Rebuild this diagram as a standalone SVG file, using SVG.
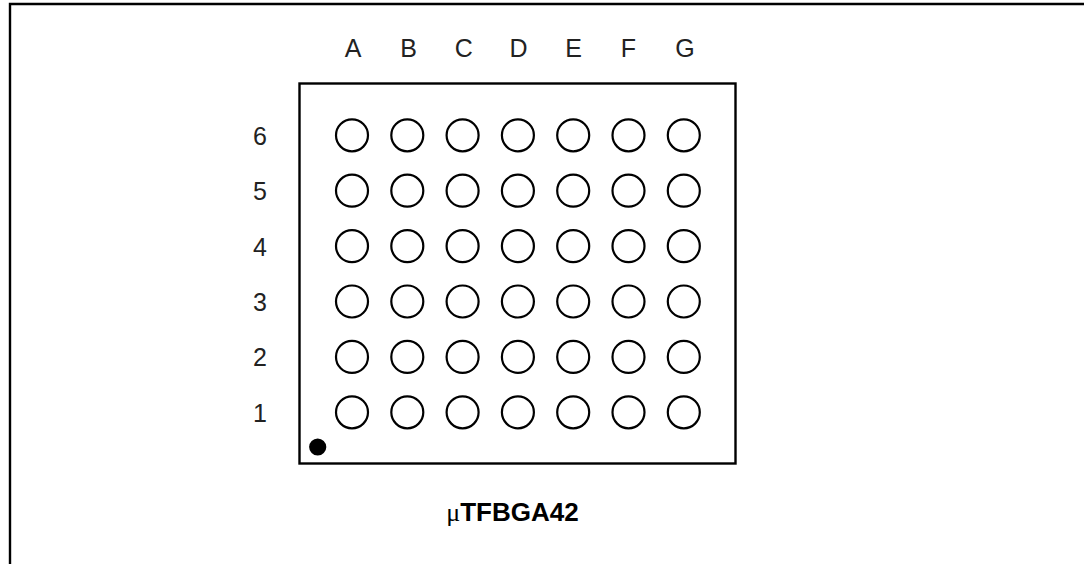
<svg xmlns="http://www.w3.org/2000/svg" width="1084" height="564" viewBox="0 0 1084 564">
<style>
.frame{stroke:#000;stroke-width:2.4;fill:none}
.chip{stroke:#000;stroke-width:2.4;fill:#fff}
.ball{stroke:#000;stroke-width:2.2;fill:#fff}
.lbl{font-family:"Liberation Sans",Arial,sans-serif;font-size:25px;fill:#222;text-anchor:middle}
.cap{font-family:"Liberation Sans",Arial,sans-serif;font-size:26px;font-weight:bold;fill:#000;text-anchor:middle}
</style>
<rect width="1084" height="564" fill="#fff"/>
<g id="frame">
<path class="frame" d="M10,564 V4 H1084"/>
</g>
<g id="chip">
<rect class="chip" x="299.5" y="83.5" width="436" height="380"/>
<circle cx="317.7" cy="447" r="8.6" fill="#000"/>
</g>
<g id="columns">
<text class="lbl" x="353" y="57">A</text>
<text class="lbl" x="408.5" y="57">B</text>
<text class="lbl" x="463.7" y="57">C</text>
<text class="lbl" x="518.5" y="57">D</text>
<text class="lbl" x="573.5" y="57">E</text>
<text class="lbl" x="628.5" y="57">F</text>
<text class="lbl" x="685" y="57">G</text>
</g>
<g id="rows">
<text class="lbl" x="260" y="144.8">6</text>
<text class="lbl" x="260" y="200.2">5</text>
<text class="lbl" x="260" y="255.6">4</text>
<text class="lbl" x="260" y="311">3</text>
<text class="lbl" x="260" y="366.4">2</text>
<text class="lbl" x="260" y="421.8">1</text>
</g>
<g id="balls">
<g id="row6"><circle class="ball" cx="352" cy="135.3" r="16"/><circle class="ball" cx="407.3" cy="135.3" r="16"/><circle class="ball" cx="462.6" cy="135.3" r="16"/><circle class="ball" cx="517.9" cy="135.3" r="16"/><circle class="ball" cx="573.2" cy="135.3" r="16"/><circle class="ball" cx="628.5" cy="135.3" r="16"/><circle class="ball" cx="683.8" cy="135.3" r="16"/></g>
<g id="row5"><circle class="ball" cx="352" cy="190.7" r="16"/><circle class="ball" cx="407.3" cy="190.7" r="16"/><circle class="ball" cx="462.6" cy="190.7" r="16"/><circle class="ball" cx="517.9" cy="190.7" r="16"/><circle class="ball" cx="573.2" cy="190.7" r="16"/><circle class="ball" cx="628.5" cy="190.7" r="16"/><circle class="ball" cx="683.8" cy="190.7" r="16"/></g>
<g id="row4"><circle class="ball" cx="352" cy="246.1" r="16"/><circle class="ball" cx="407.3" cy="246.1" r="16"/><circle class="ball" cx="462.6" cy="246.1" r="16"/><circle class="ball" cx="517.9" cy="246.1" r="16"/><circle class="ball" cx="573.2" cy="246.1" r="16"/><circle class="ball" cx="628.5" cy="246.1" r="16"/><circle class="ball" cx="683.8" cy="246.1" r="16"/></g>
<g id="row3"><circle class="ball" cx="352" cy="301.5" r="16"/><circle class="ball" cx="407.3" cy="301.5" r="16"/><circle class="ball" cx="462.6" cy="301.5" r="16"/><circle class="ball" cx="517.9" cy="301.5" r="16"/><circle class="ball" cx="573.2" cy="301.5" r="16"/><circle class="ball" cx="628.5" cy="301.5" r="16"/><circle class="ball" cx="683.8" cy="301.5" r="16"/></g>
<g id="row2"><circle class="ball" cx="352" cy="356.9" r="16"/><circle class="ball" cx="407.3" cy="356.9" r="16"/><circle class="ball" cx="462.6" cy="356.9" r="16"/><circle class="ball" cx="517.9" cy="356.9" r="16"/><circle class="ball" cx="573.2" cy="356.9" r="16"/><circle class="ball" cx="628.5" cy="356.9" r="16"/><circle class="ball" cx="683.8" cy="356.9" r="16"/></g>
<g id="row1"><circle class="ball" cx="352" cy="412.3" r="16"/><circle class="ball" cx="407.3" cy="412.3" r="16"/><circle class="ball" cx="462.6" cy="412.3" r="16"/><circle class="ball" cx="517.9" cy="412.3" r="16"/><circle class="ball" cx="573.2" cy="412.3" r="16"/><circle class="ball" cx="628.5" cy="412.3" r="16"/><circle class="ball" cx="683.8" cy="412.3" r="16"/></g>
</g>
<g id="caption">
<text class="cap" x="512.5" y="521"><tspan font-family="'Liberation Serif',serif" font-weight="normal">μ</tspan>TFBGA42</text>
</g>
</svg>
